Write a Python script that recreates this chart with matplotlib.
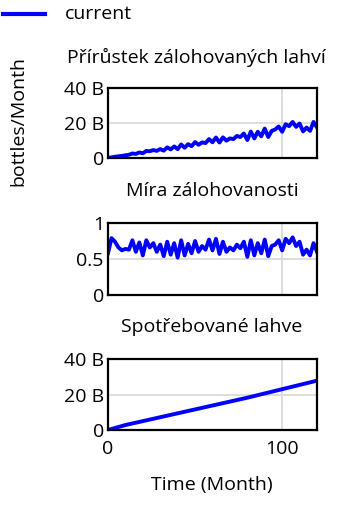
import numpy as np
import matplotlib
matplotlib.use("Agg")
import matplotlib.pyplot as plt

plt.rcParams['font.family'] = ['Open Sans', 'DejaVu Sans']

# data, time in months
t2 = np.arange(0, 121, 2)
t10 = np.arange(0, 121, 10)

# Přírůstek zálohovaných lahví, billions of bottles / month
prirustek = [0, 0.38, 0.72, 0.96, 1.2, 1.55, 1.83, 2.58, 2.33, 3.19,
             2.67, 4.05, 3.84, 4.54, 4.07, 5.09, 4.19, 6.1, 4.89, 6.63,
             5.04, 7.74, 5.87, 7.92, 6.75, 9.09, 7.56, 8.9, 8.55, 10.8,
             9.0, 11.7, 8.84, 11.8, 9.9, 11.2, 10.8, 12.6, 12.0, 14.0,
             10.3, 15.1, 11.2, 15.0, 12.4, 16.8, 12.0, 15.5, 16.3, 18.0,
             15.0, 19.3, 18.2, 20.6, 17.8, 19.7, 15.2, 17.4, 15.5, 20.6,
             17.5]

# Míra zálohovanosti
mira = [0.58, 0.79, 0.74, 0.66, 0.62, 0.64, 0.63, 0.76, 0.60, 0.73,
        0.55, 0.76, 0.66, 0.72, 0.60, 0.70, 0.54, 0.74, 0.56, 0.72,
        0.52, 0.76, 0.55, 0.71, 0.58, 0.75, 0.60, 0.68, 0.63, 0.77,
        0.62, 0.78, 0.57, 0.74, 0.60, 0.66, 0.62, 0.70, 0.65, 0.74,
        0.53, 0.76, 0.55, 0.72, 0.58, 0.77, 0.54, 0.68, 0.70, 0.76,
        0.62, 0.78, 0.72, 0.80, 0.68, 0.74, 0.56, 0.63, 0.55, 0.72,
        0.60]

# Spotřebované lahve, billions
spotreba = [0, 2.8, 5.0, 7.2, 9.4, 11.6, 13.8, 16.0, 18.2, 20.6, 23.0, 25.4, 27.8]

titles = ["Přírůstek zálohovaných lahví", "Míra zálohovanosti", "Spotřebované lahve"]
big_ticks = [0, 20, 40]
big_labels = ["0", "20 B", "40 B"]
frac_ticks = [0, 0.5, 1]
frac_labels = ["0", "0.5", "1"]

W, H = 356, 508
FS = 14
fig = plt.figure(figsize=(W / 100, H / 100), dpi=100)

def px_axes(top, bottom):
    return fig.add_axes([108 / W, 1 - bottom / H, 209 / W, (bottom - top) / H])

panels = [
    (px_axes(88, 158), t2, prirustek, big_ticks, big_labels, 20, (196, 57)),
    (px_axes(223, 295), t2, mira, frac_ticks, frac_labels, 0.5, (212, 191)),
    (px_axes(359, 430), t10, spotreba, big_ticks, big_labels, 20, (212, 327)),
]

blue = "#0000ff"
for i, (ax, x, y, yt, yl, gy, tpos) in enumerate(panels):
    ax.axvline(100, color="#d8d8d8", lw=1.2, zorder=0)
    ax.axhline(gy, color="#d8d8d8", lw=1.2, zorder=0)
    ax.plot(x, y, color=blue, lw=2.8, solid_joinstyle="round")
    ax.set_xlim(0, 120)
    ax.set_ylim(yt[0], yt[-1])
    ax.set_yticks(yt)
    ax.set_yticklabels(yl)
    ax.tick_params(axis="y", length=0, labelsize=FS, pad=3)
    ax.tick_params(axis="x", length=0, labelsize=FS, pad=7)
    if i == 2:
        ax.set_xticks([0, 100])
        ax.set_xticklabels(["0", "100"])
    else:
        ax.set_xticks([])
    for s in ax.spines.values():
        s.set_linewidth(1.6)
    fig.text(tpos[0] / W, 1 - tpos[1] / H, titles[i], ha="center", va="center",
             fontsize=FS)

fig.text(212 / W, 1 - 485 / H, "Time (Month)", ha="center", va="center", fontsize=FS)
fig.text(18 / W, 1 - 121 / H, "bottles/Month", ha="center", va="center",
         rotation=90, fontsize=FS)

# legend
fig.lines.append(plt.Line2D([3 / W, 45 / W], [1 - 14 / H, 1 - 14 / H],
                            color=blue, lw=3, transform=fig.transFigure))
fig.text(65 / W, 1 - 14 / H, "current", ha="left", va="center", fontsize=FS)

fig.savefig("out.png", dpi=100)
